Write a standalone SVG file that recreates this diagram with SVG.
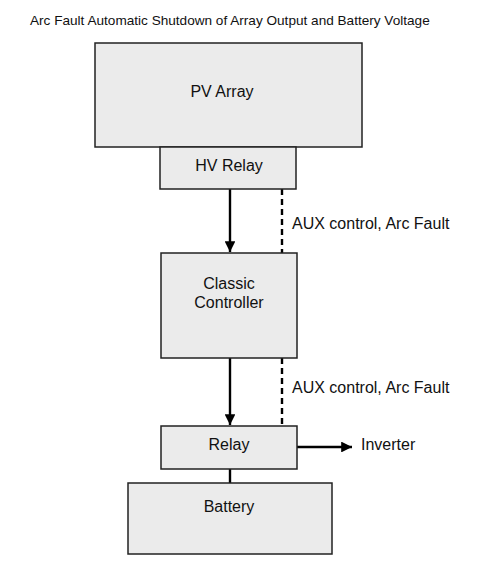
<svg xmlns="http://www.w3.org/2000/svg" width="480" height="586" viewBox="0 0 480 586">
<defs>
<style>
.box{fill:#ebebeb;stroke:#222;stroke-width:1.5}
.t{font-family:"Liberation Sans",Arial,sans-serif;font-size:16px;fill:#111;text-anchor:middle}
.l{font-family:"Liberation Sans",Arial,sans-serif;font-size:16px;fill:#111}
.solid{stroke:#000;stroke-width:2.4;fill:none}
.dash{stroke:#000;stroke-width:2.4;fill:none;stroke-dasharray:6 4}
</style>
<marker id="ah" viewBox="0 0 10 10" refX="10" refY="5" markerWidth="5" markerHeight="4.5" markerUnits="strokeWidth" orient="auto">
<path d="M0,0 L10,5 L0,10 z" fill="#000"/>
</marker>
</defs>
<rect width="480" height="586" fill="#fff"/>
<text x="30" y="25" font-family="'Liberation Sans',Arial,sans-serif" font-size="13.6" fill="#111">Arc Fault Automatic Shutdown of Array Output and Battery Voltage</text>
<g id="connectors">
<line class="solid" x1="230" y1="189" x2="230" y2="252" marker-end="url(#ah)"/>
<line class="dash" x1="282" y1="189" x2="282" y2="253"/>
<line class="solid" x1="230" y1="357" x2="230" y2="425" marker-end="url(#ah)"/>
<line class="dash" x1="282" y1="358" x2="282" y2="426"/>
<line class="solid" x1="297" y1="447" x2="352" y2="447" marker-end="url(#ah)"/>
<line class="solid" x1="230" y1="469" x2="230" y2="483"/>
<text class="l" x="292" y="229">AUX control, Arc Fault</text>
<text class="l" x="292" y="393">AUX control, Arc Fault</text>
<text class="l" x="361" y="450">Inverter</text>
</g>
<g id="pv-array">
<rect class="box" x="95" y="43" width="267" height="104"/>
<text class="t" x="222" y="97">PV Array</text>
</g>
<g id="hv-relay">
<rect class="box" x="160" y="147" width="136" height="42"/>
<text class="t" x="229" y="171">HV Relay</text>
</g>
<g id="classic-controller">
<rect class="box" x="161" y="253" width="136" height="105"/>
<text class="t" x="229" y="289">Classic</text>
<text class="t" x="229" y="308">Controller</text>
</g>
<g id="relay">
<rect class="box" x="161" y="426" width="136" height="43"/>
<text class="t" x="229" y="450">Relay</text>
</g>
<g id="battery">
<rect class="box" x="128" y="483" width="204" height="71"/>
<text class="t" x="229" y="512">Battery</text>
</g>
</svg>
